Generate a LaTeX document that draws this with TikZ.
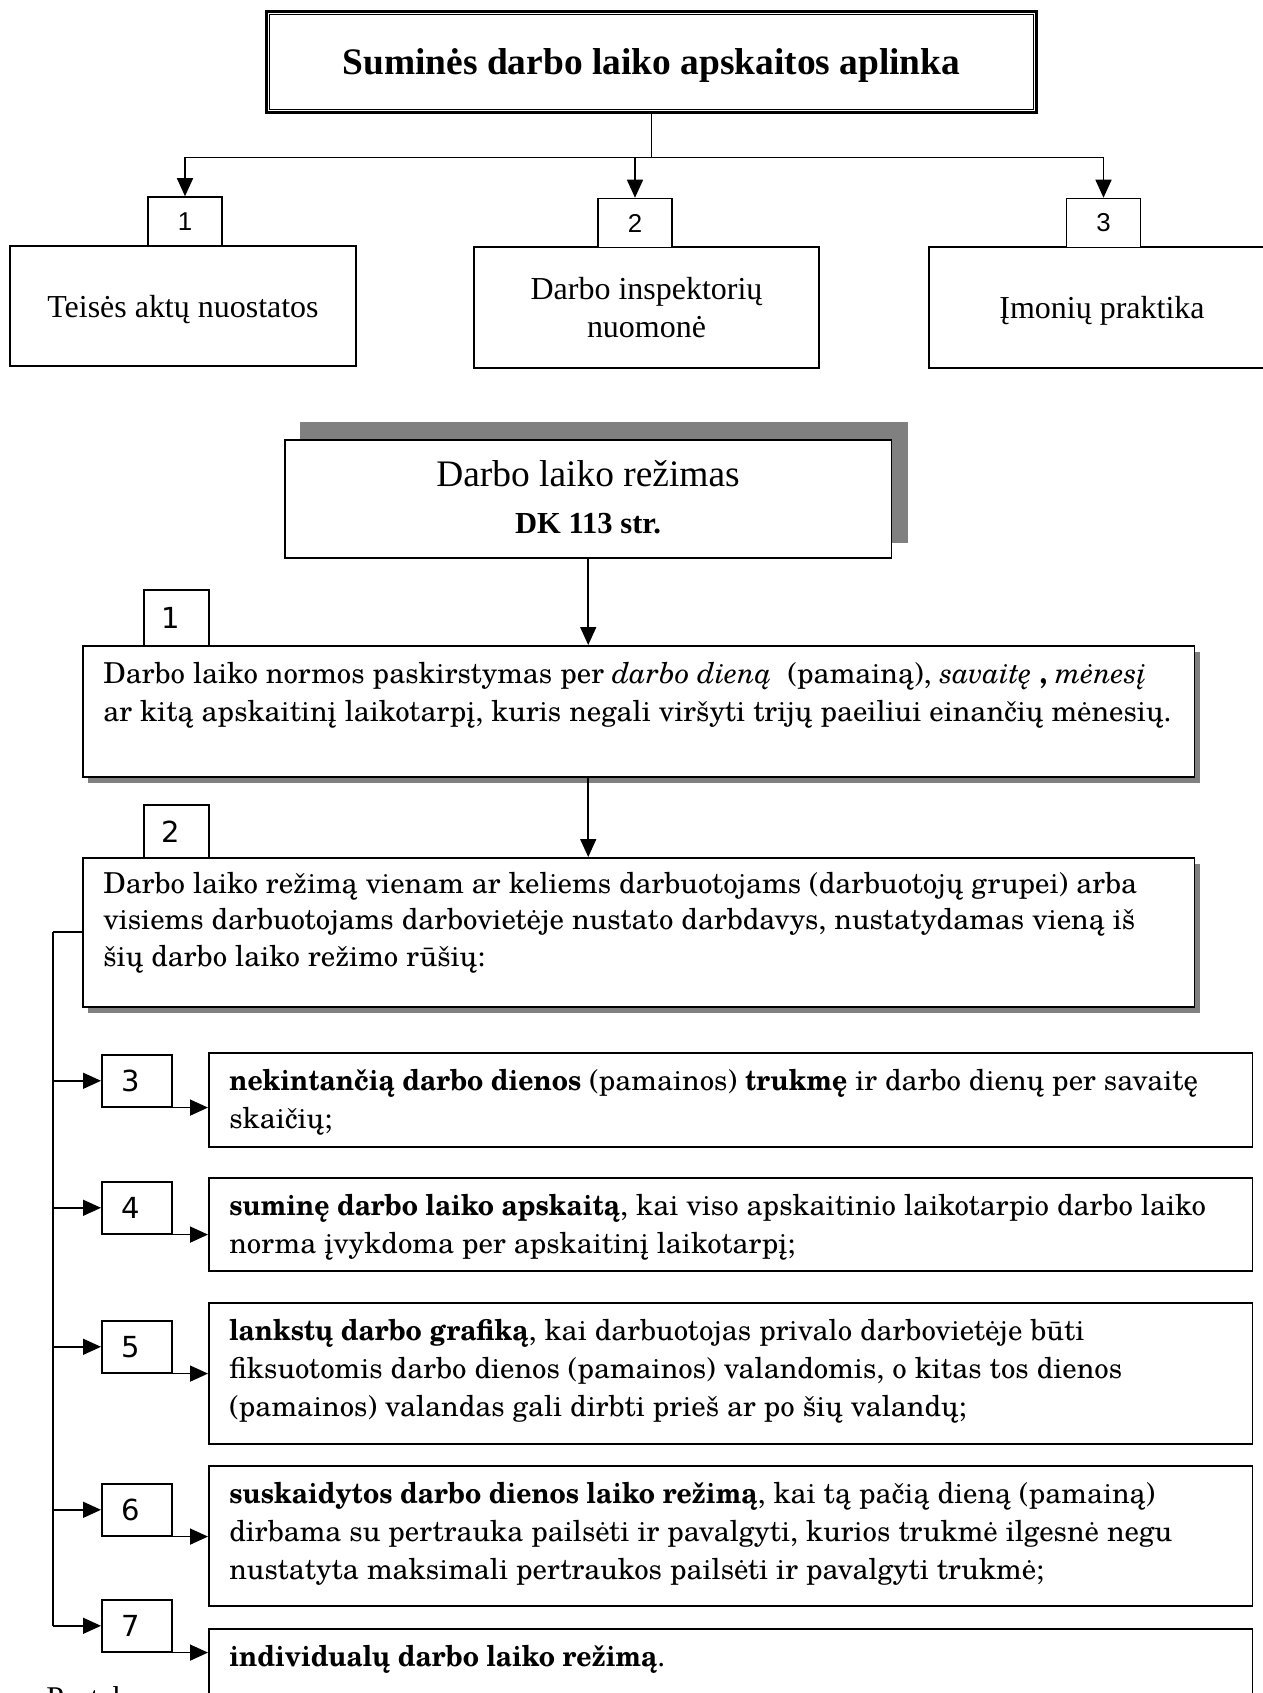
\documentclass[tikz,border=0pt]{standalone}
\usepackage{fontspec}
\setmainfont{Liberation Serif}
\newfontfamily\bodyfont{texgyreschola}[Extension=.otf,UprightFont=*-regular,BoldFont=*-bold,ItalicFont=*-italic,BoldItalicFont=*-bolditalic,BoldFeatures={FakeStretch=0.92}]
\newfontfamily\numfont{DejaVu Sans}
\newfontfamily\topnum{Liberation Sans}
\usetikzlibrary{arrows.meta}

\begin{document}
\begin{tikzpicture}[x=0.02cm, y=-0.02cm,
    frame/.style={draw, line width=0.9pt, inner sep=0pt, anchor=north west, fill=white},
    arr/.style={-{Triangle[length=0.36cm,width=0.32cm]}, line width=0.9pt},
    ln/.style={line width=0.9pt},
    txt/.style={anchor=north west, align=left, inner sep=0pt}]
    \useasboundingbox (0,0) rectangle (1263,1693);
    \clip (0,0) rectangle (1263,1693);

    % Title
    \node[frame, anchor=center, line width=1.7pt, minimum width=15.42cm, minimum height=2.04cm,
          font=\fontsize{21.3}{25}\selectfont\bfseries] (title) at (651.5,62)
          {\raisebox{-0.08cm}[\height][\depth]{Suminės darbo laiko apskaitos aplinka}};
    \draw[line width=0.8pt] ([xshift=0.1cm,yshift=-0.1cm]title.north west) rectangle ([xshift=-0.1cm,yshift=0.1cm]title.south east);

    % Sources
    \node[frame, anchor=center, minimum width=6.92cm, minimum height=2.40cm, align=center,
          font=\fontsize{18.2}{21.6}\selectfont] (b1) at (183,306)
          {\raisebox{-0.065cm}[\height][\depth]{Teisės aktų nuostatos}};
    \node[frame, anchor=center, minimum width=6.90cm, minimum height=2.42cm, align=center,
          font=\fontsize{18.2}{21.6}\selectfont] (b2) at (646.5,307.5) {Darbo inspektorių\\nuomonė};
    \node[frame, anchor=center, minimum width=6.92cm, minimum height=2.42cm, align=center,
          font=\fontsize{18.2}{21.6}\selectfont] (b3) at (1102,307.5)
          {\raisebox{-0.065cm}[\height][\depth]{Įmonių praktika}};
    \foreach \i/\x/\y in {1/185/221.5, 2/635/223, 3/1103.5/223} {
        \node[frame, anchor=center, minimum width=1.48cm, minimum height=0.98cm,
              font=\topnum\fontsize{14.7}{16}\selectfont] (n\i) at (\x,\y) {\i};
    }
    \draw[ln] (title.south) -- ++(0,43) coordinate (fork);
    \draw[arr] (fork) -| (n1.north);
    \draw[arr] (fork) -| (n2.north);
    \draw[arr] (fork) -| (n3.north);

    % Darbo laiko rezimas
    \fill[black!50] (300,422) rectangle (908,543);
    \node[frame, minimum width=12.14cm, minimum height=2.36cm] (rez) at (284,439) {};
    \node[font=\fontsize{21.3}{26}\selectfont] (rez-a) at (588,474) {Darbo laiko režimas};
    \node[font=\fontsize{17.4}{21}\selectfont\bfseries] (rez-b) at (588,523.5) {DK 113 str.};

    % Step 1
    \fill[black!50] (88,652) rectangle (1200,783);
    \node[frame, minimum width=22.24cm, minimum height=2.62cm] (t1) at (82,645) {};
    \node[frame, minimum width=1.30cm, minimum height=1.12cm, font=\numfont\fontsize{16.5}{18}\selectfont] (k1) at (143,589) {1\kern0.24cm};
    \node[txt, font=\bodyfont\fontsize{16.4}{21.3}\selectfont] (t1-txt) at (103,662)
        {Darbo laiko normos paskirstymas per \textit{darbo dieną}\ \ (pamainą), \textit{savaitę} \textbf{,} \textit{mėnesį}\\
         ar kitą apskaitinį laikotarpį, kuris negali viršyti trijų paeiliui einančių mėnesių.};
    \draw[arr] (rez.south) -- (rez.south |- t1.north);

    % Step 2
    \fill[black!50] (88,864) rectangle (1200,1013);
    \node[frame, minimum width=22.24cm, minimum height=2.98cm] (t2) at (82,857) {};
    \node[frame, minimum width=1.30cm, minimum height=1.06cm, font=\numfont\fontsize{16.5}{18}\selectfont] (k2) at (143,804) {2\kern0.24cm};
    \node[txt, font=\bodyfont\fontsize{16.4}{20.7}\selectfont] (t2-txt) at (103,872)
        {Darbo laiko režimą vienam ar keliems darbuotojams (darbuotojų grupei) arba\\
         visiems darbuotojams darbovietėje nustato darbdavys, nustatydamas vieną iš\\
         šių darbo laiko režimo rūšių:};
    \draw[arr] (rez.south |- t1.south) -- (rez.south |- t2.north);

    % Kinds of regime
    \draw[ln] (t2.west) -- ++(-29,0) coordinate (bus);
    \foreach \n/\ky/\ty/\hh/\body in {
        3/1054/1052/1.88cm/{\textbf{nekintančią darbo dienos} (pamainos) \textbf{trukmę} ir darbo dienų per savaitę\\ skaičių;},
        4/1181/1177/1.86cm/{\textbf{suminę darbo laiko apskaitą}, kai viso apskaitinio laikotarpio darbo laiko\\ norma įvykdoma per apskaitinį laikotarpį;},
        5/1320/1302/2.82cm/{\textbf{lankstų darbo grafiką}, kai darbuotojas privalo darbovietėje būti\\ fiksuotomis darbo dienos (pamainos) valandomis, o kitas tos dienos\\ (pamainos) valandas gali dirbti prieš ar po šių valandų;},
        6/1483/1465/2.80cm/{\textbf{suskaidytos darbo dienos laiko režimą}, kai tą pačią dieną (pamainą)\\ dirbama su pertrauka pailsėti ir pavalgyti, kurios trukmė ilgesnė negu\\ nustatyta maksimali pertraukos pailsėti ir pavalgyti trukmė;},
        7/1599/1628/2.70cm/{\textbf{individualų darbo laiko režimą}.}} {
        \node[frame, minimum width=20.88cm, minimum height=\hh] (r\n) at (208,\ty) {};
        \node[txt, font=\bodyfont\fontsize{16.4}{21.6}\selectfont] (r\n-txt) at ([shift={(21,17)}]r\n.north west) {\body};
        \node[frame, minimum width=1.40cm, minimum height=1.04cm, font=\numfont\fontsize{16.5}{18}\selectfont] (k\n) at (101,\ky) {\n\kern0.24cm};
        \draw[arr] (bus |- k\n.west) -- (k\n.west);
        \draw[arr] (k\n.south east) -- (k\n.south east -| r\n.west);
    }
    \draw[ln] (bus) -- (bus |- k7.west);

    % Note cut by the page edge
    \node[anchor=base west, inner sep=0pt, font=\fontsize{18}{20}\selectfont] (note) at (46,1708) {Pastaba};
\end{tikzpicture}
\end{document}
